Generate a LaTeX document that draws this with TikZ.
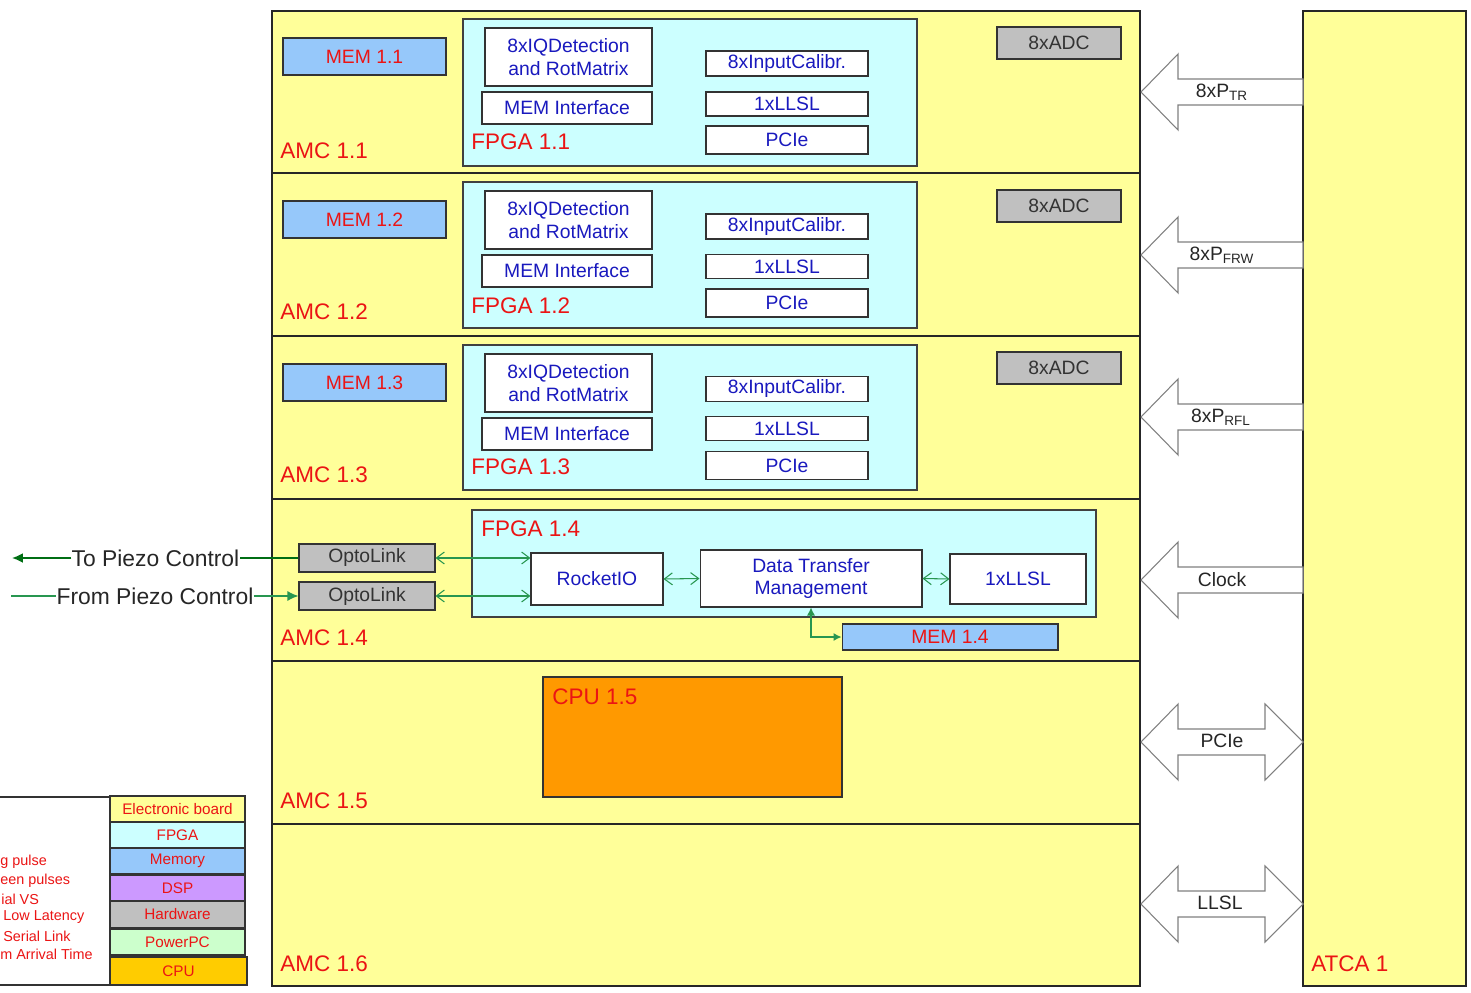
\documentclass[tikz,border=0pt]{standalone}
\usepackage{fontspec}
\setmainfont{Liberation Sans}
\usepackage{xcolor}
\usetikzlibrary{arrows.meta,positioning}
\definecolor{boardyellow}{RGB}{255,255,153}
\definecolor{fpgacyan}{RGB}{204,255,255}
\definecolor{memblue}{RGB}{150,200,250}
\definecolor{hwgrey}{RGB}{192,192,192}
\definecolor{dsppurple}{RGB}{204,153,255}
\definecolor{ppcgreen}{RGB}{204,255,204}
\definecolor{cpuyellow}{RGB}{255,204,0}
\definecolor{cpuorange}{RGB}{255,153,0}
\definecolor{lblred}{RGB}{235,20,20}
\definecolor{txtblue}{RGB}{25,25,190}
\definecolor{linkgreen}{RGB}{40,150,80}
\definecolor{piezogreen}{RGB}{0,110,20}

\begin{document}
\begin{tikzpicture}[
  x=0.02cm,y=-0.02cm,
  font=\fontsize{11}{13}\selectfont,
  >={Straight Barb[length=1.6mm,width=2.4mm]},
  board/.style={draw=black!85,line width=0.9pt,fill=boardyellow},
  fpga/.style={draw=black!75,line width=0.6pt,fill=fpgacyan},
  blk/.style={draw=black!80,line width=0.6pt,fill=white,text=txtblue,inner sep=0pt,align=center},
  mem/.style={draw=black!80,line width=0.6pt,fill=memblue,text=lblred,inner sep=0pt,
    minimum width=3.26cm,minimum height=0.74cm},
  adc/.style={draw=black!80,line width=0.6pt,fill=hwgrey,text=black!80,inner sep=0pt,
    minimum width=2.48cm,minimum height=0.64cm},
  opto/.style={adc,minimum width=2.72cm,minimum height=0.56cm},
  iqbox/.style={blk,minimum width=3.34cm,minimum height=1.16cm},
  memif/.style={blk,minimum width=3.4cm,minimum height=0.64cm},
  calib/.style={blk,minimum width=3.24cm,minimum height=0.5cm},
  llsl/.style={blk,minimum width=3.24cm,minimum height=0.48cm},
  pcie/.style={blk,minimum width=3.24cm,minimum height=0.56cm},
  biglabel/.style={text=lblred,font=\fontsize{12.8}{15}\selectfont,anchor=west,inner sep=0pt},
  piezo/.style={text=black!85,font=\fontsize{13}{15}\selectfont,inner sep=0pt},
  link/.style={<->,draw=linkgreen,line width=0.6pt},
  bus/.style={draw=black!50,line width=0.6pt,fill=white},
  buslbl/.style={text=black!85,inner sep=0pt},
  legend/.style={draw=black!80,line width=0.6pt,text=lblred,font=\fontsize{8.7}{10}\selectfont,
    minimum width=2.7cm,minimum height=0.52cm,inner sep=0pt},
  note/.style={text=lblred,font=\fontsize{8.2}{10}\selectfont,anchor=west,inner sep=0pt}
]
  \useasboundingbox (0,0) rectangle (1471,993);

  % AMC boards and ATCA carrier
  \draw[board] (272,11) rectangle (1140,173);
  \draw[board] (272,173) rectangle (1140,336);
  \draw[board] (272,336) rectangle (1140,499);
  \draw[board] (272,499) rectangle (1140,661);
  \draw[board] (272,661) rectangle (1140,824);
  \draw[board] (272,824) rectangle (1140,986);
  \draw[board] (1303,11) rectangle (1466,986);

  % AMC 1.1
  \node[mem] (mem11) at (364.5,56.5) {MEM 1.1};
  \draw[fpga] (463,19) rectangle (917,166);
  \node[iqbox] (iq11) at (568.5,57) {8xIQDetection\\and RotMatrix};
  \node[memif] (memif11) at (567,108) {MEM Interface};
  \node[calib] (calib11) at (787,63.5) {8xInputCalibr.};
  \node[llsl] (llsl11) at (787,104) {1xLLSL};
  \node[pcie] (pcie11) at (787,140) {PCIe};
  \node[biglabel] (fpgalbl11) at (471,142) {FPGA 1.1};
  \node[adc] (adc11) at (1059,43) {8xADC};
  \node[biglabel] (amc11) at (280,151) {AMC 1.1};

  % AMC 1.2
  \node[mem] (mem12) at (364.5,219.5) {MEM 1.2};
  \draw[fpga] (463,182) rectangle (917,328);
  \node[iqbox] (iq12) at (568.5,220) {8xIQDetection\\and RotMatrix};
  \node[memif] (memif12) at (567,271) {MEM Interface};
  \node[calib] (calib12) at (787,226.5) {8xInputCalibr.};
  \node[llsl] (llsl12) at (787,266.5) {1xLLSL};
  \node[pcie] (pcie12) at (787,303) {PCIe};
  \node[biglabel] (fpgalbl12) at (471,306) {FPGA 1.2};
  \node[adc] (adc12) at (1059,206) {8xADC};
  \node[biglabel] (amc12) at (280,312) {AMC 1.2};

  % AMC 1.3
  \node[mem] (mem13) at (364.5,382.5) {MEM 1.3};
  \draw[fpga] (463,345) rectangle (917,490);
  \node[iqbox] (iq13) at (568.5,383) {8xIQDetection\\and RotMatrix};
  \node[memif] (memif13) at (567,434) {MEM Interface};
  \node[calib] (calib13) at (787,389) {8xInputCalibr.};
  \node[llsl] (llsl13) at (787,428.5) {1xLLSL};
  \node[pcie] (pcie13) at (787,465.5) {PCIe};
  \node[biglabel] (fpgalbl13) at (471,467) {FPGA 1.3};
  \node[adc] (adc13) at (1059,368) {8xADC};
  \node[biglabel] (amc13) at (280,475) {AMC 1.3};

  % AMC 1.4
  \draw[fpga] (472,510) rectangle (1096,617);
  \node[biglabel] (fpgalbl14) at (481,529) {FPGA 1.4};
  \node[opto] (opto1) at (367,558) {OptoLink};
  \node[opto] (opto2) at (367,596) {OptoLink};
  \node[blk,minimum width=2.64cm,minimum height=1.04cm] (rocket) at (597,579) {RocketIO};
  \node[blk,minimum width=4.44cm,minimum height=1.14cm] (dtm) at (811,578.5)
    {Data Transfer\\Management};
  \node[blk,minimum width=2.72cm,minimum height=1cm] (llsl14) at (1018,579) {1xLLSL};
  \node[mem,minimum width=4.32cm,minimum height=0.52cm] (mem14) at (950,637) {MEM 1.4};
  \node[biglabel] (amc14) at (280,638) {AMC 1.4};
  \draw[link] (opto1.east) -- (opto1.east -| rocket.west);
  \draw[link] (opto2.east) -- (opto2.east -| rocket.west);
  \draw[link] (rocket.east) -- (dtm.west);
  \draw[link] (dtm.east) -- (llsl14.west);
  \draw[linkgreen,line width=0.6pt,{Latex[length=1.6mm,width=1.6mm]}-{Latex[length=1.6mm,width=1.6mm]}]
    (dtm.south) |- (mem14.west);

  % piezo links
  \node[piezo] (topiezo) at (155.5,558) {To Piezo Control};
  \node[piezo] (frompiezo) at (155,596) {From Piezo Control};
  \coordinate (toend) at (12,558);
  \coordinate (fromstart) at (11,596);
  \draw[piezogreen,line width=1pt] (opto1.west) -- (topiezo.east);
  \draw[piezogreen,line width=1pt,-{Latex[length=2.2mm,width=2mm]}] (topiezo.west) -- (toend);
  \draw[linkgreen,line width=0.8pt] (fromstart) -- (frompiezo.west);
  \draw[linkgreen,line width=0.8pt,-{Latex[length=2.2mm,width=2mm]}] (frompiezo.east) -- (opto2.west);

  % AMC 1.5 and 1.6
  \draw[draw=black!80,line width=0.6pt,fill=cpuorange] (543,677) rectangle (842,797);
  \node[biglabel] (cpu15) at (552,697) {CPU 1.5};
  \node[biglabel] (amc15) at (280,801) {AMC 1.5};
  \node[biglabel] (amc16) at (280,964) {AMC 1.6};
  \node[biglabel] (atca) at (1311,964) {ATCA 1};

  % backplane signals
  \draw[bus,shift={(0,92)}] (1141,0) -- (1178,-38) -- (1178,-13) -- (1303,-13)
    -- (1303,13) -- (1178,13) -- (1178,38) -- cycle;
  \draw[bus,shift={(0,255)}] (1141,0) -- (1178,-38) -- (1178,-13) -- (1303,-13)
    -- (1303,13) -- (1178,13) -- (1178,38) -- cycle;
  \draw[bus,shift={(0,417)}] (1141,0) -- (1178,-38) -- (1178,-13) -- (1303,-13)
    -- (1303,13) -- (1178,13) -- (1178,38) -- cycle;
  \draw[bus,shift={(0,580)}] (1141,0) -- (1178,-38) -- (1178,-13) -- (1303,-13)
    -- (1303,13) -- (1178,13) -- (1178,38) -- cycle;
  \draw[bus,shift={(0,742)}] (1141,0) -- (1178,-38) -- (1178,-13) -- (1265,-13)
    -- (1265,-38) -- (1303,0) -- (1265,38) -- (1265,13) -- (1178,13) -- (1178,38) -- cycle;
  \draw[bus,shift={(0,904)}] (1141,0) -- (1178,-38) -- (1178,-13) -- (1265,-13)
    -- (1265,-38) -- (1303,0) -- (1265,38) -- (1265,13) -- (1178,13) -- (1178,38) -- cycle;
  \node[buslbl] (ptr) at (1222,92) {8xP\textsubscript{TR}};
  \node[buslbl] (pfrw) at (1222,255) {8xP\textsubscript{FRW}};
  \node[buslbl] (prfl) at (1221,417) {8xP\textsubscript{RFL}};
  \node[buslbl] (clock) at (1222,580) {Clock};
  \node[buslbl] (pcielbl) at (1222,741) {PCIe};
  \node[buslbl] (llsllbl) at (1220,903) {LLSL};

  % legend
  \draw[draw=black!80,line width=0.6pt,fill=white] (-2,797) rectangle (110,985);
  \node[legend,fill=boardyellow] (lgboard) at (177.5,809) {Electronic board};
  \node[legend,fill=fpgacyan] (lgfpga) at (177.5,835) {FPGA};
  \node[legend,fill=memblue] (lgmem) at (177.5,861) {Memory};
  \node[legend,fill=dsppurple] (lgdsp) at (177.5,888) {DSP};
  \node[legend,fill=hwgrey] (lghw) at (177.5,914.5) {Hardware};
  \node[legend,fill=ppcgreen] (lgppc) at (177.5,942) {PowerPC};
  \node[legend,fill=cpuyellow,minimum width=2.74cm,minimum height=0.56cm] (lgcpu) at (178.5,971) {CPU};
  \node[note] (nt1) at (0,862) {g pulse};
  \node[note] (nt2) at (0,881) {een pulses};
  \node[note] (nt3) at (1,899) {ial VS};
  \node[note] (nt4) at (3,917) {Low Latency};
  \node[note] (nt5) at (3,936) {Serial Link};
  \node[note] (nt6) at (0,954) {m Arrival Time};
\end{tikzpicture}
\end{document}
